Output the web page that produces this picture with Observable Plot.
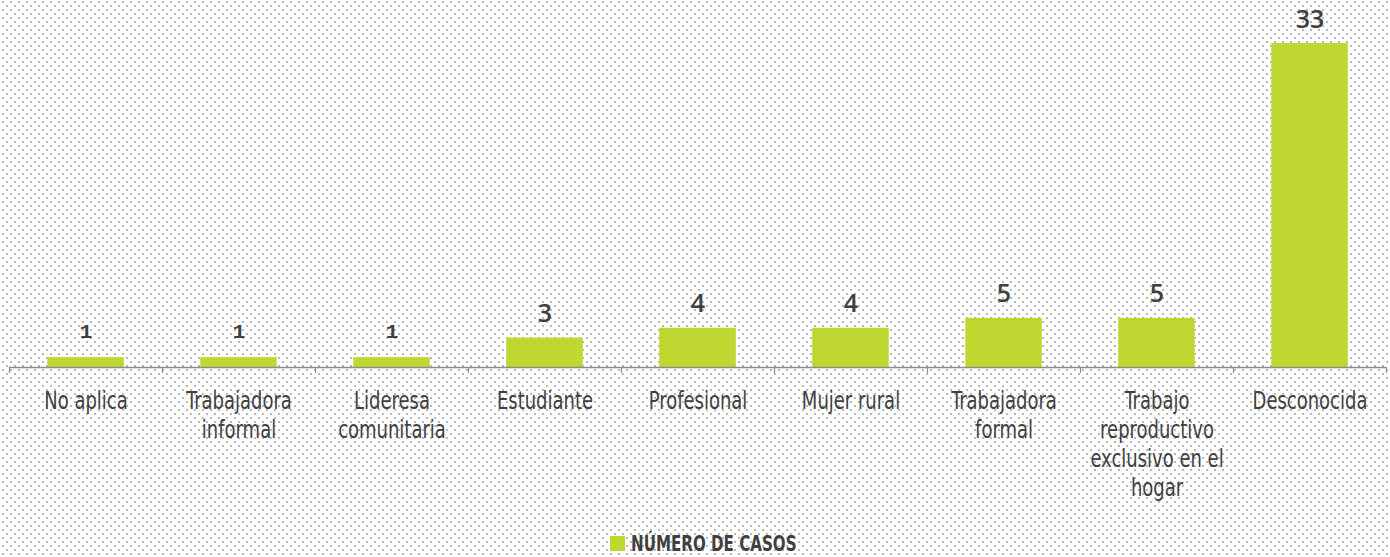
<!DOCTYPE html>
<html>
<head>
<meta charset="utf-8">
<script src="https://cdn.jsdelivr.net/npm/d3@7"></script>
<script src="https://cdn.jsdelivr.net/npm/@observablehq/plot@0.6"></script>
<style>
  html, body { margin: 0; padding: 0; }
  body {
    width: 1390px; height: 557px; overflow: hidden;
    background-color: #ffffff;
    background-image: url("data:image/svg+xml,%3Csvg xmlns='http://www.w3.org/2000/svg' width='8' height='8'%3E%3Crect x='2' y='1' width='2' height='2' fill='%23b8b8b8'/%3E%3Crect x='6' y='5' width='2' height='2' fill='%23b8b8b8'/%3E%3C/svg%3E");
    background-size: 8px 8px;
  }
  #chart svg { display: block; }
  #legend {
    height: 27px; display: flex; align-items: center; justify-content: flex-start;
    padding-left: 610px;
    font-family: "DejaVu Sans Condensed", "DejaVu Sans", sans-serif;
    font-weight: bold; font-size: 21px; color: #3f3f3f;
  }
  #legend .sw { width: 15px; height: 15px; background: #bfd730; display: inline-block; margin-right: 6px; flex: none; }
  #legend .lbl { display: inline-block; transform: scaleX(0.8); transform-origin: left center; white-space: nowrap; }
</style>
</head>
<body>
<div id="chart"></div>
<div id="legend"><span class="sw"></span><span class="lbl"></span></div>
<script>
const categories = ["No aplica", "Trabajadora informal", "Lideresa comunitaria", "Estudiante", "Profesional", "Mujer rural", "Trabajadora formal", "Trabajo reproductivo exclusivo en el hogar", "Desconocida"];
const tickLabels = ["No aplica", "Trabajadora\ninformal", "Lideresa\ncomunitaria", "Estudiante", "Profesional", "Mujer rural", "Trabajadora\nformal", "Trabajo\nreproductivo\nexclusivo en el\nhogar", "Desconocida"];
const casos = [1, 1, 1, 3, 4, 4, 5, 5, 33];
const seriesName = "NÚMERO DE CASOS";

document.querySelector("#legend .lbl").textContent = seriesName;

const data = categories.map((c, i) => ({i, categoria: c, valor: casos[i]}));
const idx = d3.range(categories.length);
const bounds = d3.range(categories.length + 1).map(k => k - 0.5);

const green = "#bfd730";
const textColor = "#3f3f3f";
const narrow = '"DejaVu Sans Condensed", "DejaVu Sans", sans-serif';

const plot = Plot.plot({
  width: 1390,
  height: 530,
  marginLeft: 9,
  marginRight: 4,
  marginTop: 43,
  marginBottom: 163,
  style: {background: "transparent", color: textColor},
  x: {type: "linear", domain: [-0.5, categories.length - 0.5]},
  y: {domain: [0, d3.max(casos)], axis: null},
  marks: [
    Plot.rectY(data, {x1: d => d.i - 0.25, x2: d => d.i + 0.25, y: "valor", fill: green}),
    Plot.ruleY([0], {stroke: "#8c8c8c", strokeWidth: 1.5}),
    Plot.axisX({ticks: bounds, tickSize: 6, tickFormat: () => "", stroke: "#8c8c8c", strokeWidth: 1.2, label: null}),
    Plot.axisX({ticks: idx, tickSize: 0, tickPadding: 21, tickFormat: k => tickLabels[k],
      fontSize: 25, lineHeight: 1.16, fontFamily: narrow, fill: textColor, label: null}),
    Plot.text(data.filter(d => d.valor === 1), {x: "i", y: "valor", text: d => String(d.valor), dy: -26,
      fontFamily: '"Liberation Mono", "DejaVu Sans Mono", monospace', fontWeight: "bold", fontSize: 21, fill: textColor}),
    Plot.text(data.filter(d => d.valor !== 1), {x: "i", y: "valor", text: d => String(d.valor), dy: -24,
      fontFamily: '"Open Sans", sans-serif', fontWeight: 600, fontSize: 25, fill: textColor})
  ]
});
document.getElementById("chart").appendChild(plot);
// condense tick label glyphs horizontally
d3.select(plot).selectAll('g[aria-label="x-axis tick label"] text').each(function() {
  const t = this.getAttribute("transform") || "";
  if (this.textContent.trim() !== "") this.setAttribute("transform", t + " scale(0.8,1)");
});
</script>
</body>
</html>
